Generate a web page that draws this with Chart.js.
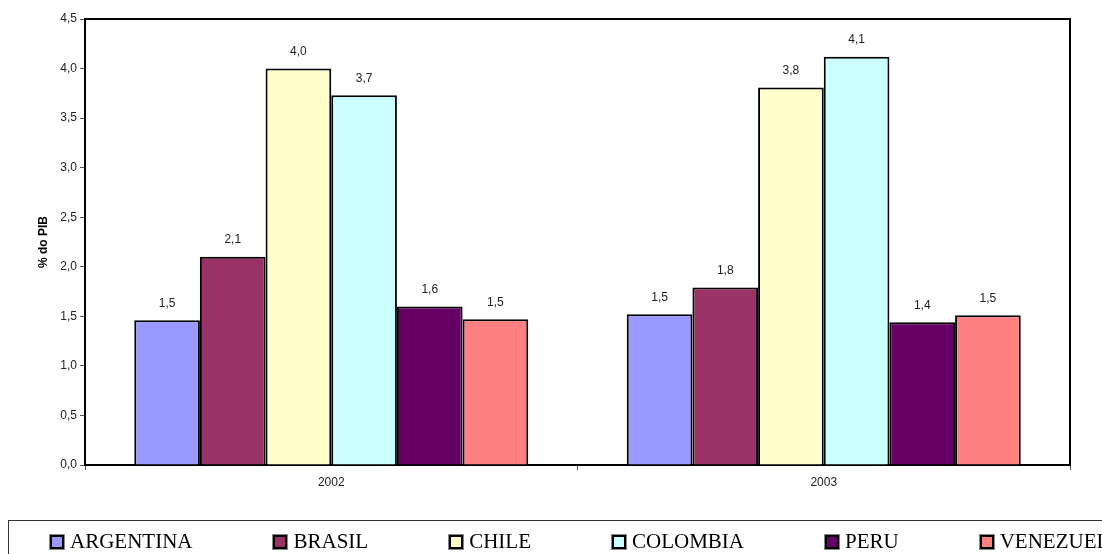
<!DOCTYPE html>
<html lang="pt">
<head>
    <meta charset="UTF-8">
    <title>% do PIB</title>
    <script src="https://cdn.jsdelivr.net/npm/chart.js"></script>
    <style>
        html, body {
            margin: 0;
            padding: 0;
            background: #fff;
            overflow: hidden;
        }
        .wrap {
            position: relative;
            width: 1102px;
            height: 554px;
            overflow: hidden;
        }
        #legend {
            position: absolute;
            left: 8px;
            top: 520px;
            width: 1300px;
            height: 60px;
            border: 1px solid #333;
            box-sizing: border-box;
            display: flex;
            align-items: flex-start;
            padding: 8px 0 0 41px;
            font-family: "Liberation Serif", "Times New Roman", serif;
            font-size: 21px;
            color: #000;
            white-space: nowrap;
        }
        #legend .item {
            display: flex;
            align-items: center;
            margin-right: 81px;
        }
        #legend .box {
            width: 10px;
            height: 10px;
            border: 2px solid #000;
            outline: 1px solid #888;
            margin-right: 6px;
        }
    </style>
</head>
<body>
    <div class="wrap">
        <canvas id="chart" width="1102" height="554"></canvas>
        <div id="legend"></div>
    </div>

    <script>
        // data
        const years = ['2002', '2003'];
        const countries = ['ARGENTINA', 'BRASIL', 'CHILE', 'COLOMBIA', 'PERU', 'VENEZUELA'];
        const argentina = [1.46, 1.52];
        const brasil = [2.10, 1.79];
        const chile = [4.00, 3.81];
        const colombia = [3.73, 4.12];
        const peru = [1.60, 1.44];
        const venezuela = [1.47, 1.51];
        const colors = ['#9999FF', '#993366', '#FFFFCC', '#CCFFFF', '#660066', '#FF8080'];

        const series = [argentina, brasil, chile, colombia, peru, venezuela];

        function fmt(v) {
            return v.toFixed(1).replace('.', ',');
        }

        // value labels above the bars
        const barLabels = {
            id: 'barLabels',
            afterDatasetsDraw(chart) {
                const ctx = chart.ctx;
                ctx.save();
                ctx.font = '12px "Liberation Sans", Arial, sans-serif';
                ctx.fillStyle = '#222';
                ctx.textAlign = 'center';
                ctx.textBaseline = 'bottom';
                chart.data.datasets.forEach((ds, i) => {
                    chart.getDatasetMeta(i).data.forEach((bar, j) => {
                        ctx.fillText(fmt(ds.data[j]), bar.x, bar.y - 11);
                    });
                });
                ctx.restore();
            }
        };

        // frame round the plot area (top and right sides)
        const plotFrame = {
            id: 'plotFrame',
            afterDraw(chart) {
                const a = chart.chartArea;
                const ctx = chart.ctx;
                ctx.save();
                ctx.strokeStyle = '#000';
                ctx.lineWidth = 2;
                ctx.beginPath();
                ctx.moveTo(a.left, a.top);
                ctx.lineTo(a.right, a.top);
                ctx.lineTo(a.right, a.bottom);
                ctx.stroke();
                ctx.restore();
            }
        };

        const ctx = document.getElementById('chart').getContext('2d');
        const chart = new Chart(ctx, {
            type: 'bar',
            data: {
                labels: years,
                datasets: countries.map((name, i) => ({
                    label: name,
                    data: series[i],
                    backgroundColor: colors[i],
                    borderColor: '#000',
                    borderWidth: 2,
                    borderSkipped: 'bottom',
                    categoryPercentage: 0.8,
                    barPercentage: 1.0
                }))
            },
            options: {
                responsive: false,
                animation: false,
                layout: {
                    padding: { left: 32, top: 19, right: 32, bottom: 59 }
                },
                plugins: {
                    legend: { display: false },
                    tooltip: { enabled: false }
                },
                scales: {
                    x: {
                        grid: {
                            offset: true,
                            drawOnChartArea: false,
                            drawTicks: true,
                            tickLength: 5,
                            color: '#555'
                        },
                        border: { color: '#000', width: 2 },
                        ticks: {
                            color: '#222',
                            padding: 5,
                            font: { family: '"Liberation Sans", Arial, sans-serif', size: 12 }
                        },
                        afterFit(scale) { scale.height = 30; }
                    },
                    y: {
                        min: 0,
                        max: 4.5,
                        ticks: {
                            stepSize: 0.5,
                            color: '#222',
                            padding: 3,
                            font: { family: '"Liberation Sans", Arial, sans-serif', size: 12 },
                            callback: v => fmt(v)
                        },
                        grid: {
                            drawOnChartArea: false,
                            drawTicks: true,
                            tickLength: 5,
                            color: '#555'
                        },
                        border: { color: '#000', width: 2 },
                        title: {
                            display: true,
                            text: '% do PIB',
                            color: '#000',
                            padding: { top: 4, bottom: 4 },
                            font: { family: '"Liberation Sans", Arial, sans-serif', size: 12, weight: 'bold' }
                        },
                        afterFit(scale) { scale.width = 53; }
                    }
                }
            },
            plugins: [barLabels, plotFrame]
        });

        // legend built from the datasets
        const legend = document.getElementById('legend');
        chart.data.datasets.forEach(ds => {
            const item = document.createElement('div');
            item.className = 'item';
            const box = document.createElement('span');
            box.className = 'box';
            box.style.background = ds.backgroundColor;
            const txt = document.createElement('span');
            txt.textContent = ds.label;
            item.appendChild(box);
            item.appendChild(txt);
            legend.appendChild(item);
        });
    </script>
</body>
</html>
